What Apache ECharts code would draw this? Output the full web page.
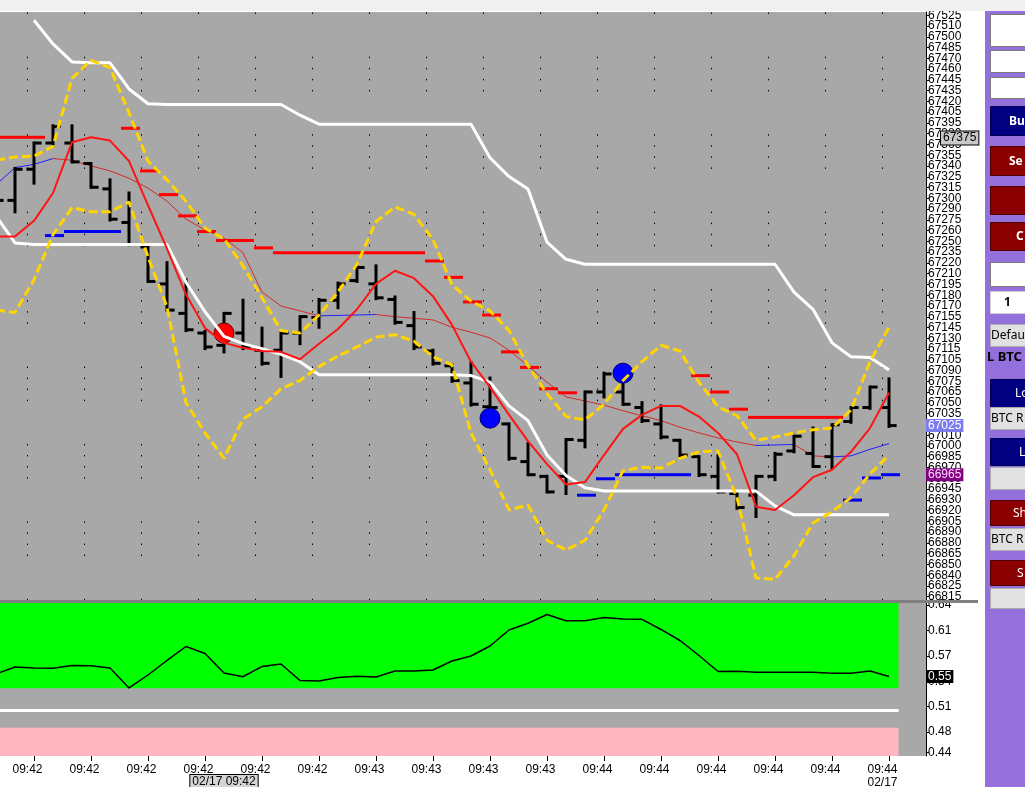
<!DOCTYPE html>
<html><head><meta charset="utf-8">
<script src="https://cdn.jsdelivr.net/npm/echarts@6/dist/echarts.min.js"></script>
<style>html,body{margin:0;padding:0;background:#fff;}#c{width:1025px;height:787px;}</style>
</head><body><div id="c"></div>
<script>
// ---------- DATA (bar k = 0..47, bar 0 is partly off the left edge) ----------
const opens  = [67290,67299,67337,67369,67369,67344,67313,67272,67242,67197,67161,67137,67122,67137,67116,67116,67137,67156,67177,67201,67197,67178,67146,67115,67097,67076,67047,67026,66980,66962,66962,67006,67065,67065,67046,67026,67006,66986,66962,66941,66939,66962,66993,66990,66986,67029,67046,67046];
const highs  = [67310,67338,67369,67390,67390,67344,67324,67308,67242,67223,67202,67139,67161,67177,67143,67137,67157,67178,67198,67218,67219,67181,67162,67116,67098,67101,67082,67026,67002,66962,67007,67065,67088,67085,67052,67048,67006,66986,66987,66941,66962,66990,67011,67021,67025,67046,67071,67081];
const lows   = [67285,67285,67320,67367,67346,67315,67275,67245,67200,67165,67140,67118,67114,67118,67099,67084,67124,67144,67168,67200,67179,67149,67118,67099,67078,67049,67045,66983,66964,66943,66941,66998,67059,67050,67029,67009,66987,66963,66943,66923,66913,66958,66992,66974,66972,67028,67045,67023];
const closes = [67299,67337,67369,67389,67346,67315,67276,67245,67200,67165,67141,67120,67161,67120,67100,67137,67157,67177,67197,67217,67180,67150,67120,67100,67079,67050,67046,66984,66964,66943,67007,67065,67087,67050,67030,67010,66988,66964,66943,66924,66962,66989,67011,66974,67025,67046,67071,67024];

const fastMA = [67255,67255,67274,67308,67370,67376,67372,67347,67293,67240,67184,67143,67125,67119,67115,67114,67105,67124,67142,67166,67197,67213,67204,67182,67147,67102,67071,67037,67005,66977,66952,66955,66988,67020,67037,67048,67048,67035,67015,66989,66925,66921,66939,66961,66970,66992,67021,67064];
const slowMA = [67318,67339,67343,67350,67348,67341,67335,67326,67314,67298,67276,67263,67253,67235,67187,67170,67164,67158,67158.5,67159,67159.6,67157,67155,67153,67144,67138,67131,67116,67097,67077,67059,67054,67049,67042,67036,67030,67022,67015,67009,67004,66999.7,67000.3,67000.9,66987,66985.7,66987,66995,67002];

const bandUpper = [67348,67352,67353,67365,67448,67470,67461,67406,67347,67324,67298,67265,67252,67219,67180,67140,67137,67159,67187,67221,67273,67291,67282,67251,67196,67176,67164,67140,67097,67063,67035,67031,67050,67079,67102,67122,67115,67077,67047,67036,67006,67010,67015,67019,67021,67043,67102,67144];
const bandLower = [67165,67162,67202,67257,67290,67285,67285,67297,67230,67169,67052,67015,66984,67032,67047,67069,67079,67096,67109,67120,67132,67135,67127,67108,67098,67015,66970,66921,66927,66884,66872,66884,66921,66969,66973,66972,66984,66992,66993,66936,66838,66836,66865,66905,66919,66936,66965,66988];

const channelUpper = [null,null,67519,67490,67468,67467,67467,67435,67417,67416,67416,67416,67416,67416,67416,67416,67403,67392,67392,67392,67392,67392,67392,67392,67392,67392,67351,67328,67313,67248,67227,67221,67221,67221,67221,67221,67221,67221,67221,67221,67221,67221,67187,67166,67125,67108,67107,67092];
const channelLower = [67280,67247,67245,67245,67245,67245,67245,67245,67245,67245,67199,67163,67133,67124,67118,67111,67102,67086,67086,67086,67086,67086,67086,67086,67086,67085,67077,67048,67030,66988,66963,66948,66944,66944,66944,66944,66944,66944,66944,66944,66944,66926,66915,66915,66915,66915,66915,66915];

const sellStop = [67376,67376,67376,null,null,null,null,67387,67335,67306,67280,67261,67250,67250,67241,67235,67235,67235,67235,67235,67235,67235,67235,67225,67205,67175,67159,67114,67095,67069,67064,null,null,null,null,null,null,67085,67065,67044,67034,67034,67034,67034,67034,null,null,null];
const buyStop  = [null,null,null,67256,67261,67261,67261,null,null,null,null,null,null,null,null,null,null,null,null,null,null,null,null,null,null,null,null,null,null,null,null,66939,66959,66964,66964,66964,66964,null,null,null,null,null,null,null,null,66933,66960,66964];

const sellSignals = [[12, 67137]];
const buySignals  = [[26, 67033], [33, 67088]];

const oscillator = [0.5498,0.5595,0.5582,0.5577,0.5616,0.5613,0.5582,0.5304,0.5484,0.5686,0.588,0.5783,0.5512,0.5461,0.5602,0.5637,0.5408,0.5401,0.5449,0.5466,0.5456,0.554,0.554,0.5554,0.5679,0.5748,0.5887,0.611,0.6203,0.6325,0.6239,0.6239,0.6283,0.6263,0.6258,0.6117,0.5964,0.5755,0.5533,0.5537,0.5522,0.5522,0.5522,0.5522,0.5508,0.5508,0.554,0.5463];
const oscGreenFloor = 0.53;
const oscMidLevel = 0.50;
const oscPinkCeil = 0.475;

const timeTickBars = [2,5,8,11,14,17,20,23,26,29,32,35,38,41,44,47];
const timeLabels = ['09:42','09:42','09:42','09:42','09:42','09:42','09:43','09:43','09:43','09:43','09:44','09:44','09:44','09:44','09:44','09:44'];
const dateLabel = '02/17';
const cursorBar = 12;
const cursorLabel = '02/17 09:42';

const priceTickLabels = ['67525','67510','67500','67485','67470','67460','67445','67435','67420','67405','67395','67380','67365','67355','67340','67325','67315','67300','67290','67275','67260','67250','67235','67220','67210','67195','67180','67170','67155','67145','67130','67115','67105','67090','67075','67065','67050','67035','67025','67010','67000','66985','66970','66960','66945','66930','66920','66905','66890','66880','66865','66850','66840','66825','66815'];
const refLevel = 67375;
const oscTickLabels = ['0.64','0.61','0.57','0.54','0.51','0.48','0.44'];
const oscTickAt = [0.6457,0.6104,0.5751,0.5398,0.5045,0.4692,0.4404];

// ---------- LAYOUT ----------
const FONT = "'Liberation Sans', Arial, sans-serif";
const UIFONT = "'Noto Sans', 'Open Sans', sans-serif";
const BAR_PX = 19, FIRST_BAR_X = -4, PLOT_W = 926;
const X_MIN = -FIRST_BAR_X / BAR_PX;
const X_MAX = X_MIN + PLOT_W / BAR_PX;
const PRICE_MIN = 66811, PRICE_MAX = 67529;
const OSC_MIN = 0.4358, OSC_MAX = 0.6485;

const N = closes.length;
const pair = arr => arr.map((v, k) => [k, v]).filter(p => p[1] != null);
const priceTickAt = priceTickLabels.map((s, j, a) => {
  const f = +a[0], l = +a[a.length - 1];
  return f + (l - f) * j / (a.length - 1);
});
function nearestLabel(v, at, labels) {
  let b = 0;
  for (let j = 1; j < at.length; j++) if (Math.abs(at[j] - v) < Math.abs(at[b] - v)) b = j;
  return labels[b];
}
const round5 = v => String(Math.round(v / 5) * 5);
const lastBuyStop = buyStop.filter(v => v != null).slice(-1)[0];
const bandEnd = (N - 1) + 0.5;
const dotCols = timeTickBars.map(k => k - 0.385);
const evenTicks = priceTickAt.filter((v, j) => j % 2 === 0);
const oddTicks = priceTickAt.filter((v, j) => j % 2 === 1);

function stepRender(color) {
  return function (params, api) {
    const k = api.value(0), v = api.value(1);
    const a = api.coord([k - 0.42, v]), b = api.coord([k + 0.58, v]);
    return {type: 'line', shape: {x1: a[0], y1: a[1], x2: b[0], y2: b[1]}, style: {stroke: color, lineWidth: 3}};
  };
}

const boxAxis = (grid, min, max, value, text, bg, fg, margin, border) => ({
  type: 'value', gridIndex: grid, position: 'right', min: min, max: max, z: 6,
  axisLine: {show: false}, axisTick: {show: false}, splitLine: {show: false},
  axisLabel: {customValues: [value], formatter: () => text, margin: margin, color: fg, fontSize: 12, fontFamily: FONT,
    backgroundColor: bg, borderColor: border || bg, borderWidth: border ? 1 : 0, padding: [1, 2, 0, 2], hideOverlap: false}
});
const priceLabelAxis = (values, withLineAndTicks) => ({
  type: 'value', gridIndex: 0, position: 'right', min: PRICE_MIN, max: PRICE_MAX, splitLine: {show: false},
  axisLine: {show: withLineAndTicks, lineStyle: {color: '#000', width: 1}},
  axisTick: {show: withLineAndTicks, length: 3, customValues: priceTickAt, lineStyle: {color: '#000'}},
  axisLabel: {customValues: values, formatter: v => nearestLabel(v, priceTickAt, priceTickLabels), margin: 2, color: '#000',
    fontSize: 12, fontFamily: FONT, hideOverlap: false, showMinLabel: true, showMaxLabel: true}
});

const panelButtons = [
  {y:14, h:32, fill:'#ffffff', stroke:'#7a7a7a'},
  {y:50, h:22, fill:'#ffffff', stroke:'#7a7a7a'},
  {y:77, h:21, fill:'#ffffff', stroke:'#7a7a7a'},
  {y:106, h:29, fill:'#000080', stroke:'#000050', text:'Bu', tx:1009, color:'#fff', bold:true},
  {y:146, h:29, fill:'#8b0000', stroke:'#500000', text:'Se', tx:1009, color:'#fff', bold:true},
  {y:186, h:28, fill:'#8b0000', stroke:'#500000'},
  {y:222, h:28, fill:'#8b0000', stroke:'#500000', text:'C', tx:1016, color:'#fff', bold:true},
  {y:262, h:24, fill:'#ffffff', stroke:'#7a7a7a'},
  {y:291, h:22, fill:'#ffffff', stroke:'#d0d0d0', text:'1', tx:1004, color:'#000', bold:true},
  {y:324, h:22, fill:'#e1e1e1', stroke:'#adadad', text:'Defau', tx:991, color:'#000'},
  {y:379, h:28, fill:'#000080', stroke:'#000050', text:'Lo', tx:1015, color:'#fff'},
  {y:407, h:22, fill:'#e1e1e1', stroke:'#adadad', text:'BTC R', tx:991, color:'#000'},
  {y:438, h:27, fill:'#000080', stroke:'#000050', text:'L', tx:1019, color:'#fff'},
  {y:467, h:22, fill:'#e1e1e1', stroke:'#adadad'},
  {y:500, h:25, fill:'#8b0000', stroke:'#500000', text:'Sh', tx:1013, color:'#fff'},
  {y:528, h:22, fill:'#e1e1e1', stroke:'#adadad', text:'BTC R', tx:991, color:'#000'},
  {y:560, h:25, fill:'#8b0000', stroke:'#500000', text:'S', tx:1017, color:'#fff'},
  {y:588, h:20, fill:'#e1e1e1', stroke:'#adadad'}
];
const graphics = [
  {type:'rect', shape:{x:0, y:0, width:1025, height:11}, style:{fill:'#f0f0f0'}, z:100},
  {type:'rect', shape:{x:0, y:600, width:978, height:3}, style:{fill:'#808080'}, z:100},
  {type:'rect', shape:{x:985, y:11, width:40, height:776}, style:{fill:'#9370db'}, z:100}
];
panelButtons.forEach(b => {
  graphics.push({type:'rect', shape:{x:990.5, y:b.y + 0.5, width:50, height:b.h}, style:{fill:b.fill, stroke:b.stroke, lineWidth:1}, z:101});
  if (b.text) graphics.push({type:'text', x:b.tx, y:b.y + b.h / 2 + 1, style:{text:b.text, fill:b.color, font:(b.bold ? 'bold ' : '') + '12px ' + UIFONT, align:'left', verticalAlign:'middle'}, z:102});
});
graphics.push({type:'text', x:987, y:357, style:{text:'L BTC', fill:'#000', font:'bold 13px ' + UIFONT, align:'left', verticalAlign:'middle'}, z:102});

const chart = echarts.init(document.getElementById('c'), null, {renderer: 'canvas'});
chart.setOption({
  animation: false,
  backgroundColor: '#ffffff',
  grid: [
    {left:0, top:12, width:PLOT_W, height:588, show:true, backgroundColor:'#a8a8a8', borderWidth:0, containLabel:false, outerBoundsMode:'none'},
    {left:0, top:603, width:PLOT_W, height:153, show:true, backgroundColor:'#a8a8a8', borderWidth:0, containLabel:false, outerBoundsMode:'none'}
  ],
  xAxis: [
    {type:'value', gridIndex:0, min:X_MIN, max:X_MAX, show:false},
    {type:'value', gridIndex:1, min:X_MIN, max:X_MAX, position:'bottom', axisLine:{show:false}, splitLine:{show:false},
      axisTick:{show:true, length:5, customValues: timeTickBars, lineStyle:{color:'#000', width:1}},
      axisLabel:{customValues: timeTickBars, margin:7, color:'#000', fontSize:12, fontFamily:FONT, lineHeight:13, padding:[0,13,0,0], hideOverlap:false,
        formatter: v => { const j = timeTickBars.indexOf(Math.round(v)); return j === timeTickBars.length - 1 ? timeLabels[j] + '\n' + dateLabel : timeLabels[j]; }}},
    {type:'value', gridIndex:1, min:X_MIN, max:X_MAX, position:'bottom', axisLine:{show:false}, splitLine:{show:false}, axisTick:{show:false},
      axisLabel:{customValues:[cursorBar], formatter: () => cursorLabel, margin:19, color:'#000', fontSize:12, fontFamily:FONT,
        backgroundColor:'#d4d4d4', borderColor:'#000', borderWidth:1, padding:[1,2,0,2], hideOverlap:false}}
  ],
  yAxis: [
    priceLabelAxis(evenTicks, true),
    priceLabelAxis(oddTicks, false),
    boxAxis(0, PRICE_MIN, PRICE_MAX, refLevel, String(refLevel), '#c8c8c8', '#000', 15, '#000'),
    boxAxis(0, PRICE_MIN, PRICE_MAX, closes[N - 1], round5(closes[N - 1]), '#7c7cf0', '#ffffff', 0),
    boxAxis(0, PRICE_MIN, PRICE_MAX, lastBuyStop, round5(lastBuyStop), '#800080', '#ffd8ff', 0),
    {type:'value', gridIndex:1, position:'right', min:OSC_MIN, max:OSC_MAX, splitLine:{show:false},
      axisLine:{show:true, lineStyle:{color:'#000', width:1}},
      axisTick:{show:true, length:3, customValues: oscTickAt, lineStyle:{color:'#000'}},
      axisLabel:{customValues: oscTickAt, formatter: v => nearestLabel(v, oscTickAt, oscTickLabels), margin:2, color:'#000', fontSize:12, lineHeight:12, fontFamily:FONT, hideOverlap:false}},
    boxAxis(1, OSC_MIN, OSC_MAX, oscillator[N - 1], oscillator[N - 1].toFixed(2), '#000000', '#ffffff', 0)
  ],
  series: [
    {type:'custom', name:'Dotted grid', xAxisIndex:0, yAxisIndex:0, silent:true, z:1,
      data: dotCols.map(v => [v, PRICE_MAX]), encode:{x:0, y:1},
      renderItem: (params, api) => {
        const cs = params.coordSys;
        const x = Math.round(api.coord([api.value(0), PRICE_MAX])[0]) + 0.5;
        return {type:'line', shape:{x1:x, y1:cs.y, x2:x, y2:cs.y + cs.height},
          style:{stroke:'#000', lineWidth:1, lineDash:[1.5, 9.56, 1.5, 9.56, 1.5, 9.56, 1.5, 42.76], lineDashOffset:32.7}};
      }},
    {type:'line', name:'Channel upper', xAxisIndex:0, yAxisIndex:0, data: pair(channelUpper), symbol:'none', lineStyle:{color:'#ffffff', width:3}},
    {type:'line', name:'Channel lower', xAxisIndex:0, yAxisIndex:0, data: pair(channelLower), symbol:'none', lineStyle:{color:'#ffffff', width:3}},
    {type:'line', name:'Band upper', xAxisIndex:0, yAxisIndex:0, data: pair(bandUpper), symbol:'none', lineStyle:{color:'#ffd400', width:3, type:[9,4]}},
    {type:'line', name:'Band lower', xAxisIndex:0, yAxisIndex:0, data: pair(bandLower), symbol:'none', lineStyle:{color:'#ffd400', width:3, type:[9,4]}},
    {type:'custom', name:'Slow MA', xAxisIndex:0, yAxisIndex:0,
      data: slowMA.slice(1).map((v, i) => [i + 1, slowMA[i], v]), encode:{x:0, y:[1,2]},
      renderItem: (params, api) => {
        const k = api.value(0), a = api.value(1), b = api.value(2);
        const p0 = api.coord([k - 1, a]), p1 = api.coord([k, b]);
        return {type:'line', shape:{x1:p0[0], y1:p0[1], x2:p1[0], y2:p1[1]}, style:{stroke: b > a ? '#2020ff' : '#d42a2a', lineWidth:1}};
      }},
    {type:'line', name:'Fast MA', xAxisIndex:0, yAxisIndex:0, data: pair(fastMA), symbol:'none', lineStyle:{color:'#ff1414', width:2}},
    {type:'custom', name:'Sell stop', xAxisIndex:0, yAxisIndex:0, data: pair(sellStop), encode:{x:0, y:1}, renderItem: stepRender('#ff0000')},
    {type:'custom', name:'Buy stop', xAxisIndex:0, yAxisIndex:0, data: pair(buyStop), encode:{x:0, y:1}, renderItem: stepRender('#0000f0')},
    {type:'custom', name:'Price', xAxisIndex:0, yAxisIndex:0,
      data: closes.map((c, k) => [k, opens[k], highs[k], lows[k], c]), encode:{x:0, y:[1,2,3,4]},
      renderItem: (params, api) => {
        const k = api.value(0);
        const o = api.coord([k, api.value(1)]), h = api.coord([k, api.value(2)]);
        const l = api.coord([k, api.value(3)]), c = api.coord([k, api.value(4)]);
        const w = api.size([1, 0])[0] * 0.4;
        const st = {stroke:'#000', lineWidth:3};
        return {type:'group', children:[
          {type:'line', shape:{x1:h[0], y1:h[1] - 1.5, x2:l[0], y2:l[1] + 1.5}, style:st},
          {type:'line', shape:{x1:o[0] - w, y1:o[1], x2:o[0], y2:o[1]}, style:st},
          {type:'line', shape:{x1:c[0], y1:c[1], x2:c[0] + w, y2:c[1]}, style:st}
        ]};
      }},
    {type:'scatter', name:'Sell signal', xAxisIndex:0, yAxisIndex:0, data: sellSignals, symbolSize:20,
      itemStyle:{color:'#ff0000', borderColor:'#600000', borderWidth:1, opacity:1}},
    {type:'scatter', name:'Buy signal', xAxisIndex:0, yAxisIndex:0, data: buySignals, symbolSize:20,
      itemStyle:{color:'#0000ff', borderColor:'#000060', borderWidth:1, opacity:1}},
    {type:'line', name:'Oscillator', xAxisIndex:1, yAxisIndex:5, data: pair(oscillator), symbol:'none', lineStyle:{color:'#000', width:1.5},
      markArea:{silent:true, data:[
        [{coord:[X_MIN, OSC_MAX], itemStyle:{color:'#00ff00', opacity:1}}, {coord:[bandEnd, oscGreenFloor]}],
        [{coord:[X_MIN, oscPinkCeil], itemStyle:{color:'#ffb6c1', opacity:1}}, {coord:[bandEnd, OSC_MIN]}]
      ]},
      markLine:{silent:true, symbol:'none', label:{show:false}, lineStyle:{color:'#ffffff', width:3, type:'solid', opacity:1},
        data:[[{coord:[X_MIN, oscMidLevel]}, {coord:[bandEnd, oscMidLevel]}]]}}
  ],
  graphic: {elements: graphics}
});
</script>
</body></html>
